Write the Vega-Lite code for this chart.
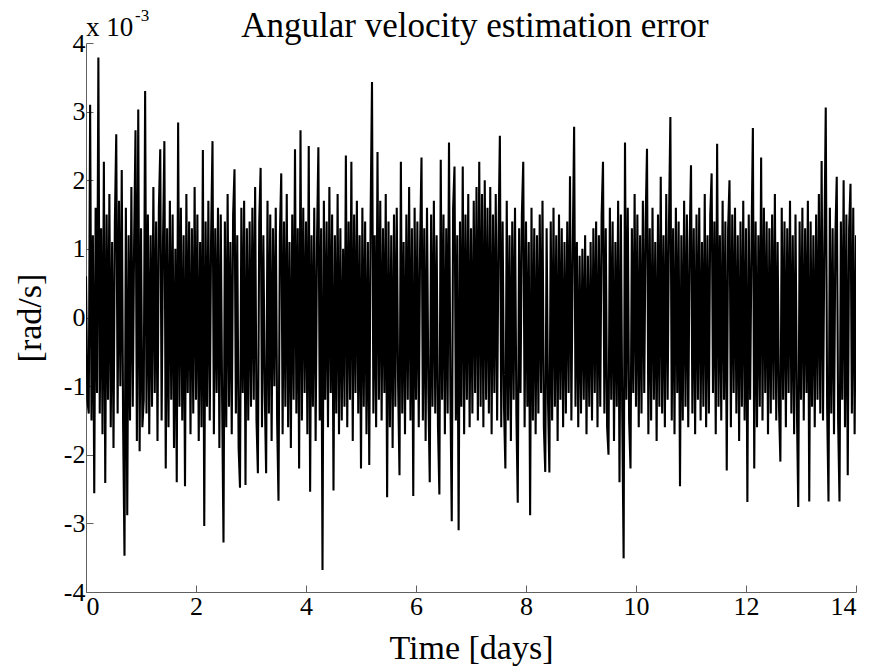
{
  "$schema": "https://vega.github.io/schema/vega-lite/v6.json",
  "width": 770,
  "height": 549,
  "autosize": {"type": "none"},
  "padding": {"left": 86, "top": 43, "right": 17, "bottom": 74},
  "background": "white",
  "config": {
    "view": {"stroke": null},
    "font": "Liberation Serif",
    "axis": {
      "labelFont": "Liberation Serif",
      "labelFontSize": 26,
      "labelColor": "#000000",
      "titleFont": "Liberation Serif",
      "titleFontSize": 34,
      "titleFontWeight": "normal",
      "titleColor": "#000000",
      "domainColor": "#606060",
      "tickColor": "#606060",
      "tickSize": -7,
      "grid": false,
      "labelExpr": "datum.value < 0 ? '-' + abs(datum.value) : '' + datum.value"
    }
  },
  "datasets": {
    "err": [
{"t":0,"v":0.6},{"t":0.025,"v":-1.2},{"t":0.05,"v":-1.4},{"t":0.075,"v":3.1},{"t":0.1,"v":-1.5},{"t":0.125,"v":1.2},{"t":0.15,"v":-2.56},{"t":0.175,"v":1.6},{"t":0.2,"v":-1.1},{"t":0.225,"v":3.79},
{"t":0.25,"v":-1.4},{"t":0.275,"v":1.3},{"t":0.3,"v":-1.7},{"t":0.325,"v":2.27},{"t":0.35,"v":-2.41},{"t":0.375,"v":1.5},{"t":0.4,"v":-1.2},{"t":0.425,"v":1.8},{"t":0.45,"v":-1.6},{"t":0.475,"v":1.1},
{"t":0.5,"v":-1.9},{"t":0.525,"v":1.4},{"t":0.55,"v":2.67},{"t":0.575,"v":-1.4},{"t":0.6,"v":1.7},{"t":0.625,"v":-1.0},{"t":0.65,"v":2.15},{"t":0.675,"v":-1.6},{"t":0.7,"v":-3.47},{"t":0.725,"v":1.6},
{"t":0.75,"v":-2.88},{"t":0.775,"v":1.2},{"t":0.8,"v":-1.5},{"t":0.825,"v":1.9},{"t":0.85,"v":-1.3},{"t":0.875,"v":1.1},{"t":0.9,"v":2.73},{"t":0.925,"v":-1.8},{"t":0.95,"v":3.03},{"t":0.975,"v":-1.95},
{"t":1,"v":1.3},{"t":1.025,"v":-1.6},{"t":1.05,"v":-1.2},{"t":1.075,"v":3.3},{"t":1.1,"v":-1.4},{"t":1.125,"v":1.5},{"t":1.15,"v":-1.7},{"t":1.175,"v":1.2},{"t":1.2,"v":-1.3},{"t":1.225,"v":1.9},
{"t":1.25,"v":-1.1},{"t":1.275,"v":1.4},{"t":1.3,"v":-1.8},{"t":1.325,"v":1.6},{"t":1.35,"v":2.45},{"t":1.375,"v":-1.5},{"t":1.4,"v":1.1},{"t":1.425,"v":2.57},{"t":1.45,"v":-2.2},{"t":1.475,"v":1.3},
{"t":1.5,"v":-1.6},{"t":1.525,"v":1.7},{"t":1.55,"v":-1.2},{"t":1.575,"v":1.5},{"t":1.6,"v":-1.9},{"t":1.625,"v":1.0},{"t":1.65,"v":-2.4},{"t":1.675,"v":2.84},{"t":1.7,"v":-1.3},{"t":1.725,"v":1.6},
{"t":1.75,"v":-1.5},{"t":1.775,"v":1.2},{"t":1.8,"v":-2.46},{"t":1.825,"v":1.8},{"t":1.85,"v":-1.1},{"t":1.875,"v":1.4},{"t":1.9,"v":-1.7},{"t":1.925,"v":1.3},{"t":1.95,"v":-1.4},{"t":1.975,"v":1.9},
{"t":2,"v":-1.2},{"t":2.025,"v":1.5},{"t":2.05,"v":-1.8},{"t":2.075,"v":1.1},{"t":2.1,"v":-1.6},{"t":2.125,"v":2.44},{"t":2.15,"v":-3.04},{"t":2.175,"v":1.4},{"t":2.2,"v":-1.3},{"t":2.225,"v":1.7},
{"t":2.25,"v":-1.5},{"t":2.275,"v":1.2},{"t":2.3,"v":2.57},{"t":2.325,"v":-1.7},{"t":2.35,"v":1.3},{"t":2.375,"v":-1.1},{"t":2.4,"v":1.6},{"t":2.425,"v":-1.9},{"t":2.45,"v":1.5},{"t":2.475,"v":-1.2},
{"t":2.5,"v":-3.28},{"t":2.525,"v":1.4},{"t":2.55,"v":-1.6},{"t":2.575,"v":1.8},{"t":2.6,"v":-1.3},{"t":2.625,"v":1.1},{"t":2.65,"v":-1.7},{"t":2.675,"v":1.5},{"t":2.7,"v":2.16},{"t":2.725,"v":-1.4},
{"t":2.75,"v":1.2},{"t":2.775,"v":-1.9},{"t":2.8,"v":-2.48},{"t":2.825,"v":1.6},{"t":2.85,"v":-1.1},{"t":2.875,"v":1.7},{"t":2.9,"v":-2.44},{"t":2.925,"v":1.3},{"t":2.95,"v":-1.5},{"t":2.975,"v":1.4},
{"t":3,"v":-1.3},{"t":3.025,"v":1.6},{"t":3.05,"v":-1.2},{"t":3.075,"v":1.9},{"t":3.1,"v":-1.5},{"t":3.125,"v":-2.27},{"t":3.15,"v":1.4},{"t":3.175,"v":2.18},{"t":3.2,"v":-1.6},{"t":3.225,"v":1.2},
{"t":3.25,"v":-1.1},{"t":3.275,"v":-2.27},{"t":3.3,"v":1.7},{"t":3.325,"v":-1.4},{"t":3.35,"v":1.5},{"t":3.375,"v":-1.8},{"t":3.4,"v":1.3},{"t":3.425,"v":-1.0},{"t":3.45,"v":1.6},{"t":3.475,"v":-1.5},
{"t":3.5,"v":-2.67},{"t":3.525,"v":1.2},{"t":3.55,"v":2.1},{"t":3.575,"v":-1.7},{"t":3.6,"v":1.4},{"t":3.625,"v":-1.3},{"t":3.65,"v":1.8},{"t":3.675,"v":-1.6},{"t":3.7,"v":1.1},{"t":3.725,"v":-1.9},
{"t":3.75,"v":1.5},{"t":3.775,"v":-1.2},{"t":3.8,"v":2.45},{"t":3.825,"v":-1.4},{"t":3.85,"v":1.3},{"t":3.875,"v":-2.2},{"t":3.9,"v":2.73},{"t":3.925,"v":-1.5},{"t":3.95,"v":1.6},{"t":3.975,"v":-1.1},
{"t":4,"v":1.4},{"t":4.025,"v":-1.7},{"t":4.05,"v":2.5},{"t":4.075,"v":-2.54},{"t":4.1,"v":1.2},{"t":4.125,"v":-1.3},{"t":4.15,"v":1.6},{"t":4.175,"v":-1.8},{"t":4.2,"v":1.1},{"t":4.225,"v":2.48},
{"t":4.25,"v":-1.5},{"t":4.275,"v":1.3},{"t":4.3,"v":-3.68},{"t":4.325,"v":1.7},{"t":4.35,"v":-1.2},{"t":4.375,"v":1.4},{"t":4.4,"v":-1.6},{"t":4.425,"v":1.9},{"t":4.45,"v":-1.1},{"t":4.475,"v":1.5},
{"t":4.5,"v":-2.52},{"t":4.525,"v":1.2},{"t":4.55,"v":-1.4},{"t":4.575,"v":1.8},{"t":4.6,"v":-1.7},{"t":4.625,"v":1.3},{"t":4.65,"v":-1.5},{"t":4.675,"v":1.0},{"t":4.7,"v":-1.3},{"t":4.725,"v":2.36},
{"t":4.75,"v":-1.6},{"t":4.775,"v":1.4},{"t":4.8,"v":-1.2},{"t":4.825,"v":2.27},{"t":4.85,"v":-1.8},{"t":4.875,"v":1.5},{"t":4.9,"v":-1.1},{"t":4.925,"v":1.7},{"t":4.95,"v":-1.4},{"t":4.975,"v":1.2},
{"t":5,"v":-2.2},{"t":5.025,"v":1.6},{"t":5.05,"v":-1.3},{"t":5.075,"v":1.4},{"t":5.1,"v":-1.7},{"t":5.125,"v":1.1},{"t":5.15,"v":-2.15},{"t":5.175,"v":1.5},{"t":5.2,"v":3.43},{"t":5.225,"v":-1.4},
{"t":5.25,"v":1.2},{"t":5.275,"v":-1.6},{"t":5.3,"v":2.41},{"t":5.325,"v":-1.2},{"t":5.35,"v":1.7},{"t":5.375,"v":-1.5},{"t":5.4,"v":1.3},{"t":5.425,"v":-1.1},{"t":5.45,"v":1.8},{"t":5.475,"v":-2.62},
{"t":5.5,"v":1.4},{"t":5.525,"v":-1.6},{"t":5.55,"v":1.2},{"t":5.575,"v":-1.9},{"t":5.6,"v":1.5},{"t":5.625,"v":-1.3},{"t":5.65,"v":1.6},{"t":5.675,"v":-1.0},{"t":5.7,"v":-2.3},{"t":5.725,"v":2.27},
{"t":5.75,"v":-1.4},{"t":5.775,"v":1.1},{"t":5.8,"v":-1.7},{"t":5.825,"v":1.5},{"t":5.85,"v":-1.2},{"t":5.875,"v":1.9},{"t":5.9,"v":-1.5},{"t":5.925,"v":1.3},{"t":5.95,"v":-2.6},{"t":5.975,"v":1.6},
{"t":6,"v":-1.2},{"t":6.025,"v":1.4},{"t":6.05,"v":-1.6},{"t":6.075,"v":1.1},{"t":6.1,"v":2.33},{"t":6.125,"v":-1.5},{"t":6.15,"v":1.3},{"t":6.175,"v":-1.8},{"t":6.2,"v":1.6},{"t":6.225,"v":-1.1},
{"t":6.25,"v":-2.4},{"t":6.275,"v":1.5},{"t":6.3,"v":-1.3},{"t":6.325,"v":1.7},{"t":6.35,"v":-1.4},{"t":6.375,"v":1.2},{"t":6.4,"v":-1.6},{"t":6.425,"v":-2.58},{"t":6.45,"v":2.3},{"t":6.475,"v":-1.2},
{"t":6.5,"v":1.5},{"t":6.525,"v":-1.7},{"t":6.55,"v":1.3},{"t":6.575,"v":-1.4},{"t":6.6,"v":2.55},{"t":6.625,"v":-1.1},{"t":6.65,"v":-2.97},{"t":6.675,"v":1.6},{"t":6.7,"v":2.2},{"t":6.725,"v":-1.5},
{"t":6.75,"v":1.2},{"t":6.775,"v":-3.1},{"t":6.8,"v":1.4},{"t":6.825,"v":-1.3},{"t":6.85,"v":2.2},{"t":6.875,"v":-1.7},{"t":6.9,"v":1.5},{"t":6.925,"v":-1.2},{"t":6.95,"v":1.8},{"t":6.975,"v":-1.6},
{"t":7,"v":1.3},{"t":7.025,"v":-1.4},{"t":7.05,"v":1.7},{"t":7.075,"v":-1.1},{"t":7.1,"v":1.9},{"t":7.125,"v":-1.5},{"t":7.15,"v":2.27},{"t":7.175,"v":-1.3},{"t":7.2,"v":1.8},{"t":7.225,"v":-1.6},
{"t":7.25,"v":2.0},{"t":7.275,"v":-1.2},{"t":7.3,"v":1.6},{"t":7.325,"v":-1.4},{"t":7.35,"v":1.9},{"t":7.375,"v":-1.7},{"t":7.4,"v":1.5},{"t":7.425,"v":-1.1},{"t":7.45,"v":1.8},{"t":7.475,"v":-1.5},
{"t":7.5,"v":1.2},{"t":7.525,"v":2.65},{"t":7.55,"v":-1.6},{"t":7.575,"v":1.4},{"t":7.6,"v":-1.3},{"t":7.625,"v":-2.2},{"t":7.65,"v":1.7},{"t":7.675,"v":-1.5},{"t":7.7,"v":1.2},{"t":7.725,"v":-1.8},
{"t":7.75,"v":1.4},{"t":7.775,"v":-1.2},{"t":7.8,"v":1.6},{"t":7.825,"v":-1.4},{"t":7.85,"v":-2.7},{"t":7.875,"v":1.3},{"t":7.9,"v":-1.1},{"t":7.925,"v":1.5},{"t":7.95,"v":2.27},{"t":7.975,"v":-1.6},
{"t":8,"v":1.4},{"t":8.025,"v":-1.3},{"t":8.05,"v":1.1},{"t":8.075,"v":-2.88},{"t":8.1,"v":1.6},{"t":8.125,"v":-1.5},{"t":8.15,"v":1.3},{"t":8.175,"v":-1.7},{"t":8.2,"v":1.2},{"t":8.225,"v":-1.4},
{"t":8.25,"v":1.5},{"t":8.275,"v":-1.1},{"t":8.3,"v":1.7},{"t":8.325,"v":-1.6},{"t":8.35,"v":-2.25},{"t":8.375,"v":1.3},{"t":8.4,"v":-1.2},{"t":8.425,"v":-2.26},{"t":8.45,"v":1.4},{"t":8.475,"v":-1.5},
{"t":8.5,"v":1.6},{"t":8.525,"v":-1.3},{"t":8.55,"v":1.2},{"t":8.575,"v":-1.8},{"t":8.6,"v":1.5},{"t":8.625,"v":-1.2},{"t":8.65,"v":1.3},{"t":8.675,"v":-1.6},{"t":8.7,"v":1.1},{"t":8.725,"v":-1.4},
{"t":8.75,"v":1.4},{"t":8.775,"v":-1.1},{"t":8.8,"v":2.06},{"t":8.825,"v":-1.5},{"t":8.85,"v":1.0},{"t":8.875,"v":2.78},{"t":8.9,"v":-1.3},{"t":8.925,"v":1.1},{"t":8.95,"v":-1.6},{"t":8.975,"v":0.9},
{"t":9,"v":-1.4},{"t":9.025,"v":1.0},{"t":9.05,"v":-1.2},{"t":9.075,"v":1.2},{"t":9.1,"v":-1.7},{"t":9.125,"v":0.9},{"t":9.15,"v":-1.3},{"t":9.175,"v":1.1},{"t":9.2,"v":-1.5},{"t":9.225,"v":1.3},
{"t":9.25,"v":-1.1},{"t":9.275,"v":1.4},{"t":9.3,"v":-1.6},{"t":9.325,"v":1.2},{"t":9.35,"v":-1.3},{"t":9.375,"v":1.5},{"t":9.4,"v":2.27},{"t":9.425,"v":-1.4},{"t":9.45,"v":1.3},{"t":9.475,"v":-1.6},
{"t":9.5,"v":-2.0},{"t":9.525,"v":1.6},{"t":9.55,"v":-1.2},{"t":9.575,"v":1.4},{"t":9.6,"v":-1.8},{"t":9.625,"v":1.1},{"t":9.65,"v":-1.3},{"t":9.675,"v":1.7},{"t":9.7,"v":-2.4},{"t":9.725,"v":1.5},
{"t":9.75,"v":-1.4},{"t":9.775,"v":-3.51},{"t":9.8,"v":2.55},{"t":9.825,"v":-1.2},{"t":9.85,"v":1.6},{"t":9.875,"v":-1.5},{"t":9.9,"v":-2.2},{"t":9.925,"v":1.3},{"t":9.95,"v":-1.1},{"t":9.975,"v":1.8},
{"t":10,"v":-1.3},{"t":10.025,"v":1.5},{"t":10.05,"v":-1.6},{"t":10.075,"v":1.2},{"t":10.1,"v":-1.4},{"t":10.125,"v":1.7},{"t":10.15,"v":-1.1},{"t":10.175,"v":1.4},{"t":10.2,"v":2.46},{"t":10.225,"v":-1.7},
{"t":10.25,"v":1.3},{"t":10.275,"v":-1.5},{"t":10.3,"v":1.6},{"t":10.325,"v":-1.2},{"t":10.35,"v":1.1},{"t":10.375,"v":-1.8},{"t":10.4,"v":1.5},{"t":10.425,"v":-1.3},{"t":10.45,"v":2.05},{"t":10.475,"v":-1.4},
{"t":10.5,"v":1.2},{"t":10.525,"v":-1.6},{"t":10.55,"v":1.8},{"t":10.575,"v":-1.2},{"t":10.6,"v":1.4},{"t":10.625,"v":2.92},{"t":10.65,"v":-1.5},{"t":10.675,"v":1.3},{"t":10.7,"v":-1.7},{"t":10.725,"v":1.6},
{"t":10.75,"v":-1.1},{"t":10.775,"v":1.4},{"t":10.8,"v":-2.46},{"t":10.825,"v":1.2},{"t":10.85,"v":-1.5},{"t":10.875,"v":1.7},{"t":10.9,"v":-1.3},{"t":10.925,"v":1.5},{"t":10.95,"v":-1.6},{"t":10.975,"v":1.1},
{"t":11,"v":2.22},{"t":11.025,"v":-1.4},{"t":11.05,"v":1.3},{"t":11.075,"v":-1.7},{"t":11.1,"v":1.5},{"t":11.125,"v":-1.2},{"t":11.15,"v":1.6},{"t":11.175,"v":-1.5},{"t":11.2,"v":1.1},{"t":11.225,"v":-1.3},
{"t":11.25,"v":1.8},{"t":11.275,"v":-1.6},{"t":11.3,"v":1.2},{"t":11.325,"v":-1.4},{"t":11.35,"v":1.5},{"t":11.375,"v":2.1},{"t":11.4,"v":-1.1},{"t":11.425,"v":1.4},{"t":11.45,"v":-1.7},{"t":11.475,"v":2.53},
{"t":11.5,"v":-1.3},{"t":11.525,"v":1.2},{"t":11.55,"v":-1.5},{"t":11.575,"v":1.7},{"t":11.6,"v":-1.2},{"t":11.625,"v":1.4},{"t":11.65,"v":-2.23},{"t":11.675,"v":1.3},{"t":11.7,"v":2.0},{"t":11.725,"v":-1.6},
{"t":11.75,"v":1.5},{"t":11.775,"v":-1.1},{"t":11.8,"v":1.6},{"t":11.825,"v":-1.4},{"t":11.85,"v":1.2},{"t":11.875,"v":-1.8},{"t":11.9,"v":1.4},{"t":11.925,"v":-1.3},{"t":11.95,"v":1.7},{"t":11.975,"v":-1.5},
{"t":12,"v":1.3},{"t":12.025,"v":-2.69},{"t":12.05,"v":1.5},{"t":12.075,"v":-1.2},{"t":12.1,"v":1.1},{"t":12.125,"v":2.76},{"t":12.15,"v":-2.2},{"t":12.175,"v":1.4},{"t":12.2,"v":-1.6},{"t":12.225,"v":1.2},
{"t":12.25,"v":-1.3},{"t":12.275,"v":2.33},{"t":12.3,"v":-1.5},{"t":12.325,"v":1.6},{"t":12.35,"v":-1.1},{"t":12.375,"v":1.4},{"t":12.4,"v":-1.7},{"t":12.425,"v":1.3},{"t":12.45,"v":-1.4},{"t":12.475,"v":1.5},
{"t":12.5,"v":-1.2},{"t":12.525,"v":1.8},{"t":12.55,"v":-1.5},{"t":12.575,"v":1.1},{"t":12.6,"v":-1.3},{"t":12.625,"v":-2.1},{"t":12.65,"v":1.6},{"t":12.675,"v":-1.2},{"t":12.7,"v":1.4},{"t":12.725,"v":-1.6},
{"t":12.75,"v":1.3},{"t":12.775,"v":-1.1},{"t":12.8,"v":1.7},{"t":12.825,"v":-1.4},{"t":12.85,"v":1.2},{"t":12.875,"v":-1.7},{"t":12.9,"v":1.5},{"t":12.925,"v":-1.3},{"t":12.95,"v":-2.76},{"t":12.975,"v":1.4},
{"t":13,"v":-1.2},{"t":13.025,"v":1.6},{"t":13.05,"v":-1.5},{"t":13.075,"v":1.3},{"t":13.1,"v":-1.1},{"t":13.125,"v":1.7},{"t":13.15,"v":-2.68},{"t":13.175,"v":1.4},{"t":13.2,"v":-1.3},{"t":13.225,"v":1.2},
{"t":13.25,"v":-1.6},{"t":13.275,"v":1.5},{"t":13.3,"v":-1.2},{"t":13.325,"v":1.8},{"t":13.35,"v":-1.4},{"t":13.375,"v":2.28},{"t":13.4,"v":-1.5},{"t":13.425,"v":1.1},{"t":13.45,"v":3.06},{"t":13.475,"v":-1.3},
{"t":13.5,"v":-2.68},{"t":13.525,"v":1.6},{"t":13.55,"v":-1.4},{"t":13.575,"v":1.3},{"t":13.6,"v":-1.7},{"t":13.625,"v":1.2},{"t":13.65,"v":2.05},{"t":13.675,"v":-1.5},{"t":13.7,"v":-2.68},{"t":13.725,"v":1.4},
{"t":13.75,"v":-1.2},{"t":13.775,"v":2.0},{"t":13.8,"v":-1.6},{"t":13.825,"v":1.5},{"t":13.85,"v":-2.3},{"t":13.875,"v":1.3},{"t":13.9,"v":1.95},{"t":13.925,"v":-1.4},{"t":13.95,"v":1.6},{"t":13.975,"v":-1.7},
{"t":14,"v":1.2}
    ]
  },
  "layer": [
    {
      "data": {"name": "err"},
      "mark": {"type": "line", "color": "#000000", "strokeWidth": 2.1, "clip": true},
      "encoding": {
        "x": {
          "field": "t", "type": "quantitative",
          "scale": {"domain": [0, 14], "nice": false, "zero": false},
          "axis": {
            "values": [0, 2, 4, 6, 8, 10, 12, 14],
            "title": "Time [days]",
            "labelPadding": 8,
            "titleX": 385,
            "titleY": 66,
            "titleBaseline": "alphabetic"
          }
        },
        "y": {
          "field": "v", "type": "quantitative",
          "scale": {"domain": [-4, 4], "nice": false, "zero": false},
          "axis": {
            "values": [-4, -3, -2, -1, 0, 1, 2, 3, 4],
            "title": "[rad/s]",
            "labelPadding": 8,
            "titleX": -56,
            "titleY": 274.5,
            "titleBaseline": "middle"
          }
        }
      }
    },
    {
      "data": {"values": [{"label": "Angular velocity estimation error"}]},
      "mark": {"type": "text", "align": "center", "baseline": "alphabetic", "font": "Liberation Serif", "fontSize": 35, "color": "#000000", "dx": 4, "dy": -6},
      "encoding": {
        "x": {"datum": 7, "type": "quantitative"},
        "y": {"datum": 4, "type": "quantitative"},
        "text": {"field": "label"}
      }
    },
    {
      "data": {"values": [{"label": "x 10"}]},
      "mark": {"type": "text", "align": "left", "baseline": "alphabetic", "font": "Liberation Serif", "fontSize": 27, "color": "#000000", "dx": 0, "dy": -7},
      "encoding": {
        "x": {"datum": 0, "type": "quantitative"},
        "y": {"datum": 4, "type": "quantitative"},
        "text": {"field": "label"}
      }
    },
    {
      "data": {"values": [{"label": "-3"}]},
      "mark": {"type": "text", "align": "left", "baseline": "alphabetic", "font": "Liberation Serif", "fontSize": 17, "color": "#000000", "dx": 49, "dy": -22},
      "encoding": {
        "x": {"datum": 0, "type": "quantitative"},
        "y": {"datum": 4, "type": "quantitative"},
        "text": {"field": "label"}
      }
    }
  ]
}
